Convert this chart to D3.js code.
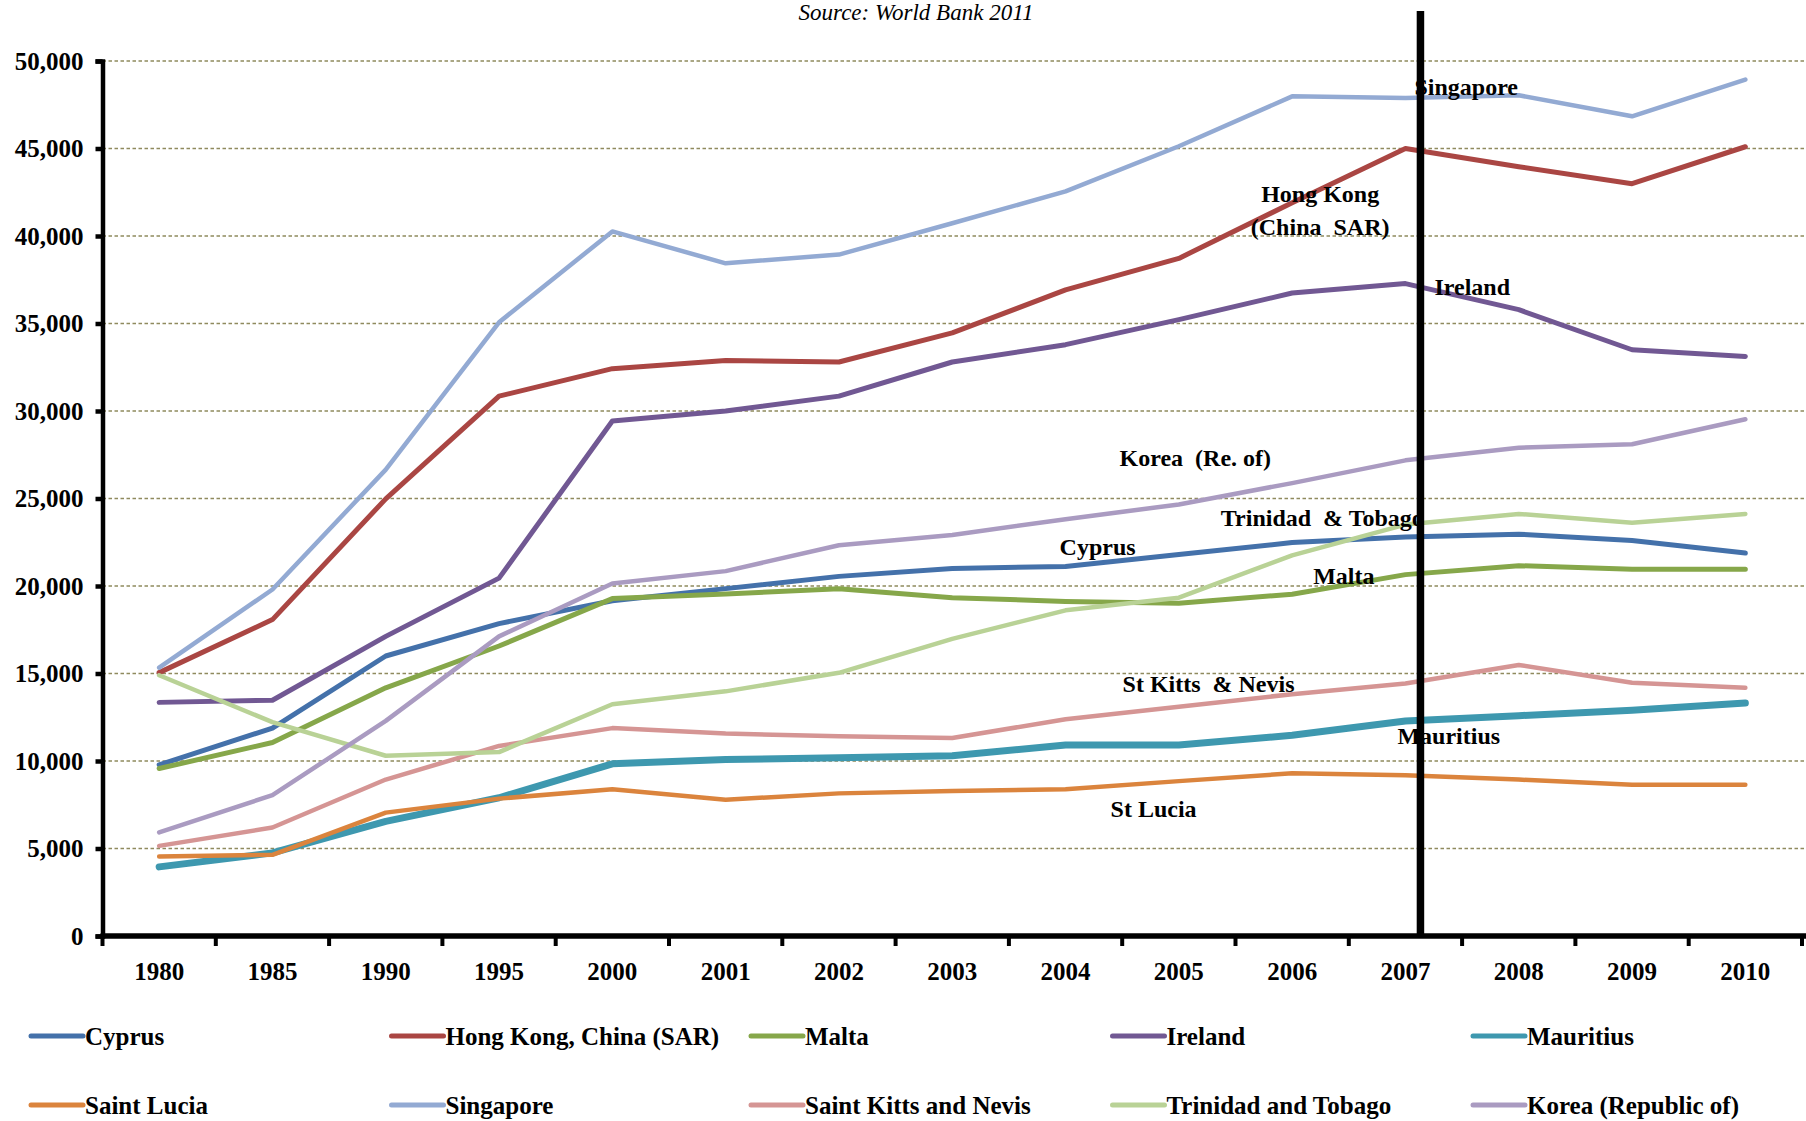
<!DOCTYPE html>
<html>
<head>
<meta charset="utf-8">
<script src="https://cdn.jsdelivr.net/npm/d3@7"></script>
<style>
  html, body { margin: 0; padding: 0; background: #ffffff; }
  svg { display: block; }
  text { font-family: "Liberation Serif", "Times New Roman", serif; fill: #000; }
</style>
</head>
<body>
<svg id="chart" width="1806" height="1121"></svg>
<script>
// GDP per capita (PPP, US$) — small island / city economies
const years = ["1980","1985","1990","1995","2000","2001","2002","2003","2004","2005","2006","2007","2008","2009","2010"];
const yTicks = [0, 5000, 10000, 15000, 20000, 25000, 30000, 35000, 40000, 45000, 50000];

const cyprus     = [9780, 11880, 16000, 17850, 19160, 19850, 20550, 21000, 21120, 21800, 22480, 22800, 22960, 22600, 21880];
const hongKong   = [15050, 18080, 24980, 30850, 32420, 32880, 32800, 34460, 36920, 38720, 41900, 45000, 43960, 42990, 45100];
const malta      = [9570, 11060, 14180, 16570, 19280, 19540, 19840, 19330, 19120, 19020, 19530, 20650, 21160, 20960, 20960];
const ireland    = [13350, 13470, 17120, 20450, 29430, 30000, 30850, 32800, 33790, 35220, 36740, 37280, 35790, 33500, 33120];
const mauritius  = [3950, 4750, 6550, 7900, 9840, 10080, 10180, 10300, 10920, 10920, 11470, 12290, 12590, 12900, 13310];
const saintLucia = [4540, 4640, 7050, 7850, 8390, 7790, 8150, 8290, 8390, 8850, 9300, 9180, 8940, 8640, 8640];
const singapore  = [15330, 19800, 26650, 35070, 40260, 38440, 38940, 40730, 42550, 45130, 47980, 47890, 48040, 46840, 48940];
const stKitts    = [5150, 6200, 8940, 10860, 11880, 11570, 11410, 11310, 12390, 13100, 13820, 14430, 15490, 14470, 14180];
const trinidad   = [14900, 12220, 10300, 10510, 13240, 13980, 15040, 16980, 18610, 19330, 21750, 23510, 24120, 23610, 24120];
const korea      = [5920, 8050, 12290, 17120, 20140, 20850, 22330, 22920, 23820, 24660, 25880, 27180, 27900, 28100, 29530];

const seriesNames = ["Cyprus", "Hong Kong, China (SAR)", "Malta", "Ireland", "Mauritius",
                     "Saint Lucia", "Singapore", "Saint Kitts and Nevis", "Trinidad and Tobago", "Korea (Republic of)"];
const seriesValues = [cyprus, hongKong, malta, ireland, mauritius, saintLucia, singapore, stKitts, trinidad, korea];

// In-chart country labels: text, anchor year, anchor value
const labelTexts  = ["Singapore", "Hong Kong", "(China  SAR)", "Ireland", "Korea  (Re. of)", "Trinidad  & Tobago",
                     "Cyprus", "Malta", "St Kitts  & Nevis", "Mauritius", "St Lucia"];
const labelYears  = ["2007", "2006", "2006", "2007", "2004", "2005", "2004", "2006", "2004", "2007", "2004"];
const labelValues = [48060, 41970, 40080, 36630, 26880, 23410, 21800, 20130, 13970, 10960, 6800];

// Marker year for the vertical reference line
const markerYear = "2007";

// ---- styling ----
const colors  = ["#4471AA", "#AA4643", "#86A74A", "#715893", "#3E98AF", "#DB843D", "#93AAD3", "#D59594", "#B9D296", "#AA9BC1"];
const widths  = [5, 5, 5, 5, 7, 4.5, 4.5, 4.5, 4.5, 4.5];
const labelDx = [9, 28, 28, 29, 54, 42, -6, 21, 57, -8, 45];
const labelAnchor = ["start", "middle", "middle", "start", "start", "start", "start", "start", "start", "start", "start"];

const svg = d3.select("#chart");
const plotLeft = 102.5, plotRight = 1802, plotTop = 61, plotBottom = 936;

const x = d3.scaleBand().domain(years).range([plotLeft, plotRight]).padding(0);
const y = d3.scaleLinear().domain([0, 50000]).range([plotBottom, plotTop]);
const cx = d => x(d) + x.bandwidth() / 2;

// Source line
svg.append("text")
  .attr("x", 916).attr("y", 20)
  .attr("text-anchor", "middle")
  .style("font-style", "italic")
  .style("font-size", "23px")
  .text("Source: World Bank 2011");

// Dashed horizontal gridlines
svg.append("g").selectAll("line")
  .data(yTicks.filter(t => t > 0))
  .join("line")
  .attr("x1", plotLeft).attr("x2", 1806)
  .attr("y1", d => y(d)).attr("y2", d => y(d))
  .attr("stroke", "#8F8A5E")
  .attr("stroke-width", 1.6)
  .attr("stroke-dasharray", "3.5,2.5");

// Y axis
const yAxis = d3.axisLeft(y).tickValues(yTicks).tickSize(7).tickPadding(12)
  .tickFormat(d3.format(","));
const gy = svg.append("g").attr("transform", `translate(${plotLeft},0)`).call(yAxis);
gy.select(".domain").attr("stroke", "#000").attr("stroke-width", 4.5);
gy.selectAll(".tick line").attr("stroke", "#000").attr("stroke-width", 4.5);
gy.selectAll(".tick text")
  .style("font-family", "'Liberation Serif', serif")
  .style("font-weight", "bold").style("font-size", "25px").attr("fill", "#000");

// Series lines
const line = d3.line().x((v, i) => cx(years[i])).y(v => y(v));
svg.append("g").selectAll("path")
  .data(seriesValues)
  .join("path")
  .attr("d", d => line(d))
  .attr("fill", "none")
  .attr("stroke", (d, i) => colors[i])
  .attr("stroke-width", (d, i) => widths[i])
  .attr("stroke-linejoin", "round")
  .attr("stroke-linecap", "round");

// X axis (ticks on category boundaries)
const gx = svg.append("g").attr("transform", `translate(0,${plotBottom})`);
gx.append("line").attr("x1", plotLeft - 2).attr("x2", 1806).attr("y1", 0).attr("y2", 0)
  .attr("stroke", "#000").attr("stroke-width", 5.5);
gx.selectAll("line.tk")
  .data(years.map((yr, i) => i).concat([years.length]))
  .join("line").attr("class", "tk")
  .attr("x1", i => plotLeft + i * x.bandwidth()).attr("x2", i => plotLeft + i * x.bandwidth())
  .attr("y1", 0).attr("y2", 10)
  .attr("stroke", "#000").attr("stroke-width", 4);
gx.selectAll("text")
  .data(years)
  .join("text")
  .attr("x", d => cx(d)).attr("y", 44)
  .attr("text-anchor", "middle")
  .style("font-weight", "bold").style("font-size", "25px")
  .text(d => d);

// Country labels
svg.append("g").selectAll("text")
  .data(labelTexts)
  .join("text")
  .attr("x", (d, i) => cx(labelYears[i]) + labelDx[i])
  .attr("y", (d, i) => y(labelValues[i]))
  .attr("text-anchor", (d, i) => labelAnchor[i])
  .style("font-weight", "bold").style("font-size", "24px")
  .style("white-space", "pre")
  .text(d => d);

// Vertical reference line at 2007
svg.append("line")
  .attr("x1", cx(markerYear) + 15).attr("x2", cx(markerYear) + 15)
  .attr("y1", 11).attr("y2", plotBottom)
  .attr("stroke", "#000").attr("stroke-width", 7.5);

// Legend: two rows of five
const legendCols = [31, 391.5, 751, 1112.5, 1473];
const legendRows = [1036, 1105];
const lg = svg.append("g").selectAll("g")
  .data(seriesNames)
  .join("g")
  .attr("transform", (d, i) => `translate(${legendCols[i % 5]},${legendRows[Math.floor(i / 5)]})`);
lg.append("line").attr("x1", 0).attr("x2", 52).attr("y1", 0).attr("y2", 0)
  .attr("stroke", (d, i) => colors[i]).attr("stroke-width", 5).attr("stroke-linecap", "round");
lg.append("text").attr("x", 54).attr("y", 9)
  .style("font-weight", "bold").style("font-size", "25px")
  .text(d => d);
</script>
</body>
</html>
